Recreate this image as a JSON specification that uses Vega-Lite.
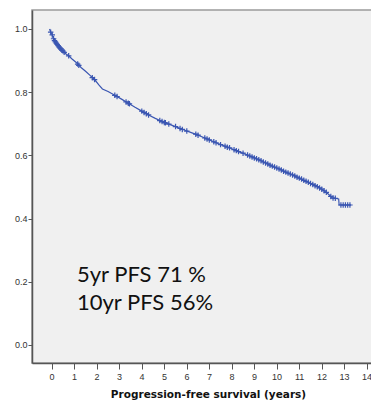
{
  "$schema": "https://vega.github.io/schema/vega-lite/v6.json",
  "width": 360,
  "height": 353,
  "autosize": "none",
  "padding": {"left": 32, "top": 10, "right": 0, "bottom": 38},
  "background": "white",
  "config": {
    "view": {"fill": "#f0f0f0", "stroke": "#9a9a9a", "strokeWidth": 1.5},
    "axis": {
      "grid": false,
      "domainColor": "#555555",
      "domainWidth": 1.5,
      "tickColor": "#555555",
      "labelFont": "Liberation Sans",
      "labelFontSize": 9,
      "labelColor": "#333333",
      "labelOverlap": false
    }
  },
  "datasets": {
    "curve": [
      {"t": 0, "s": 1.0}, {"t": 0.05, "s": 0.99}, {"t": 0.1, "s": 0.985}, {"t": 0.15, "s": 0.975},
      {"t": 0.2, "s": 0.965}, {"t": 0.3, "s": 0.955}, {"t": 0.4, "s": 0.945}, {"t": 0.5, "s": 0.937},
      {"t": 0.6, "s": 0.93}, {"t": 0.7, "s": 0.922}, {"t": 0.85, "s": 0.915}, {"t": 1.0, "s": 0.905},
      {"t": 1.2, "s": 0.893}, {"t": 1.4, "s": 0.878}, {"t": 1.6, "s": 0.866}, {"t": 1.8, "s": 0.853},
      {"t": 2.0, "s": 0.84}, {"t": 2.2, "s": 0.822}, {"t": 2.35, "s": 0.81}, {"t": 2.6, "s": 0.802},
      {"t": 2.9, "s": 0.79}, {"t": 3.2, "s": 0.778}, {"t": 3.5, "s": 0.765}, {"t": 3.8, "s": 0.752},
      {"t": 4.1, "s": 0.74}, {"t": 4.4, "s": 0.728}, {"t": 4.7, "s": 0.717}, {"t": 5.0, "s": 0.707},
      {"t": 5.3, "s": 0.699}, {"t": 5.6, "s": 0.691}, {"t": 5.95, "s": 0.681}, {"t": 6.3, "s": 0.672},
      {"t": 6.6, "s": 0.664}, {"t": 6.9, "s": 0.655}, {"t": 7.2, "s": 0.646}, {"t": 7.5, "s": 0.637},
      {"t": 7.8, "s": 0.629}, {"t": 8.1, "s": 0.621}, {"t": 8.4, "s": 0.612}, {"t": 8.7, "s": 0.604},
      {"t": 9.0, "s": 0.595}, {"t": 9.3, "s": 0.586}, {"t": 9.6, "s": 0.576}, {"t": 9.9, "s": 0.566},
      {"t": 10.2, "s": 0.557}, {"t": 10.5, "s": 0.547}, {"t": 10.8, "s": 0.538}, {"t": 11.1, "s": 0.528},
      {"t": 11.4, "s": 0.518}, {"t": 11.7, "s": 0.508}, {"t": 12.0, "s": 0.497}, {"t": 12.2, "s": 0.488},
      {"t": 12.4, "s": 0.477}, {"t": 12.55, "s": 0.466}, {"t": 12.85, "s": 0.462}, {"t": 12.87, "s": 0.443},
      {"t": 13.4, "s": 0.443}
    ],
    "censored": [
      {"t": 0.05, "s": 0.99}, {"t": 0.12, "s": 0.981}, {"t": 0.18, "s": 0.969}, {"t": 0.22, "s": 0.963},
      {"t": 0.26, "s": 0.959}, {"t": 0.3, "s": 0.955}, {"t": 0.34, "s": 0.951}, {"t": 0.38, "s": 0.947},
      {"t": 0.42, "s": 0.943}, {"t": 0.46, "s": 0.94}, {"t": 0.5, "s": 0.937}, {"t": 0.55, "s": 0.933},
      {"t": 0.6, "s": 0.93}, {"t": 0.65, "s": 0.926}, {"t": 0.85, "s": 0.915}, {"t": 1.25, "s": 0.889},
      {"t": 1.3, "s": 0.885}, {"t": 1.9, "s": 0.846}, {"t": 2.0, "s": 0.84}, {"t": 2.9, "s": 0.79},
      {"t": 3.0, "s": 0.786}, {"t": 3.4, "s": 0.769}, {"t": 3.5, "s": 0.765}, {"t": 3.55, "s": 0.763},
      {"t": 4.1, "s": 0.74}, {"t": 4.2, "s": 0.736}, {"t": 4.3, "s": 0.732}, {"t": 4.4, "s": 0.728},
      {"t": 4.9, "s": 0.71}, {"t": 5.0, "s": 0.707}, {"t": 5.1, "s": 0.704}, {"t": 5.15, "s": 0.703},
      {"t": 5.3, "s": 0.699}, {"t": 5.6, "s": 0.691}, {"t": 5.8, "s": 0.685}, {"t": 5.9, "s": 0.682},
      {"t": 6.1, "s": 0.677}, {"t": 6.5, "s": 0.667}, {"t": 6.6, "s": 0.664}, {"t": 6.9, "s": 0.655},
      {"t": 7.0, "s": 0.652}, {"t": 7.1, "s": 0.649}, {"t": 7.3, "s": 0.643}, {"t": 7.4, "s": 0.64},
      {"t": 7.6, "s": 0.634}, {"t": 7.8, "s": 0.629}, {"t": 7.9, "s": 0.626}, {"t": 8.0, "s": 0.624},
      {"t": 8.2, "s": 0.618}, {"t": 8.3, "s": 0.615}, {"t": 8.4, "s": 0.612}, {"t": 8.6, "s": 0.607},
      {"t": 8.8, "s": 0.601}, {"t": 8.9, "s": 0.598}, {"t": 9.0, "s": 0.595}, {"t": 9.1, "s": 0.592},
      {"t": 9.2, "s": 0.589}, {"t": 9.3, "s": 0.586}, {"t": 9.4, "s": 0.583}, {"t": 9.5, "s": 0.579},
      {"t": 9.6, "s": 0.576}, {"t": 9.7, "s": 0.573}, {"t": 9.8, "s": 0.569}, {"t": 9.9, "s": 0.566},
      {"t": 10.0, "s": 0.563}, {"t": 10.1, "s": 0.56}, {"t": 10.2, "s": 0.557}, {"t": 10.3, "s": 0.554},
      {"t": 10.4, "s": 0.55}, {"t": 10.5, "s": 0.547}, {"t": 10.6, "s": 0.544}, {"t": 10.7, "s": 0.541},
      {"t": 10.8, "s": 0.538}, {"t": 10.9, "s": 0.535}, {"t": 11.0, "s": 0.531}, {"t": 11.1, "s": 0.528},
      {"t": 11.2, "s": 0.525}, {"t": 11.3, "s": 0.521}, {"t": 11.4, "s": 0.518}, {"t": 11.5, "s": 0.515},
      {"t": 11.6, "s": 0.511}, {"t": 11.7, "s": 0.508}, {"t": 11.8, "s": 0.504}, {"t": 11.9, "s": 0.501},
      {"t": 12.0, "s": 0.497}, {"t": 12.1, "s": 0.493}, {"t": 12.2, "s": 0.488}, {"t": 12.3, "s": 0.483},
      {"t": 12.5, "s": 0.47}, {"t": 12.6, "s": 0.465}, {"t": 12.7, "s": 0.464}, {"t": 12.95, "s": 0.443},
      {"t": 13.05, "s": 0.443}, {"t": 13.15, "s": 0.443}, {"t": 13.25, "s": 0.443}, {"t": 13.35, "s": 0.443}
    ],
    "notes": [
      {"label": "5yr PFS 71 %"},
      {"label": "10yr PFS 56%"}
    ]
  },
  "layer": [
    {
      "data": {"name": "curve"},
      "mark": {"type": "line", "color": "#3a56b2", "strokeWidth": 1.2},
      "encoding": {
        "x": {
          "field": "t", "type": "quantitative",
          "scale": {"domain": [-0.78, 15.22], "nice": false, "zero": false},
          "axis": {"values": [0, 1, 2, 3, 4, 5, 6, 7, 8, 9, 10, 11, 12, 13, 14], "labelOverlap": false, "title": "Progression-free survival (years)", "titleFont": "DejaVu Sans", "titleFontSize": 10.5, "titleFontWeight": "bold", "titleColor": "#111111", "titlePadding": 8, "titleX": 176, "tickSize": 6, "tickOffset": 2, "labelPadding": 3}
        },
        "y": {
          "field": "s", "type": "quantitative",
          "scale": {"domain": [-0.057, 1.06], "nice": false, "zero": false},
          "axis": {"values": [0, 0.2, 0.4, 0.6, 0.8, 1.0], "format": ".1f", "title": null, "tickSize": 4, "labelPadding": 1}
        }
      }
    },
    {
      "data": {"name": "censored"},
      "mark": {"type": "point", "shape": "M-1,0L1,0M0,-1L0,1", "size": 30, "filled": false, "stroke": "#3a56b2", "strokeWidth": 1.2, "opacity": 1},
      "encoding": {
        "x": {
          "field": "t", "type": "quantitative",
          "axis": {"values": [0, 1, 2, 3, 4, 5, 6, 7, 8, 9, 10, 11, 12, 13, 14], "labelOverlap": false, "title": "Progression-free survival (years)", "titleFont": "DejaVu Sans", "titleFontSize": 10.5, "titleFontWeight": "bold", "titleColor": "#111111", "titlePadding": 8, "titleX": 176, "tickSize": 6, "tickOffset": 2, "labelPadding": 3}
        },
        "y": {
          "field": "s", "type": "quantitative",
          "axis": {"values": [0, 0.2, 0.4, 0.6, 0.8, 1.0], "format": ".1f", "title": null, "tickSize": 4, "labelPadding": 1}
        }
      }
    },
    {
      "data": {"name": "notes"},
      "transform": [{"filter": "datum.label == '5yr PFS 71 %'"}],
      "mark": {"type": "text", "font": "Lato", "fontSize": 22, "align": "left", "fill": "#111111"},
      "encoding": {
        "x": {
          "datum": 1.22, "type": "quantitative",
          "axis": {"values": [0, 1, 2, 3, 4, 5, 6, 7, 8, 9, 10, 11, 12, 13, 14], "labelOverlap": false, "title": "Progression-free survival (years)", "titleFont": "DejaVu Sans", "titleFontSize": 10.5, "titleFontWeight": "bold", "titleColor": "#111111", "titlePadding": 8, "titleX": 176, "tickSize": 6, "tickOffset": 2, "labelPadding": 3}
        },
        "y": {
          "datum": 0.222, "type": "quantitative",
          "axis": {"values": [0, 0.2, 0.4, 0.6, 0.8, 1.0], "format": ".1f", "title": null, "tickSize": 4, "labelPadding": 1}
        },
        "text": {"field": "label"}
      }
    },
    {
      "data": {"name": "notes"},
      "transform": [{"filter": "datum.label == '10yr PFS 56%'"}],
      "mark": {"type": "text", "font": "Lato", "fontSize": 22, "align": "left", "fill": "#111111"},
      "encoding": {
        "x": {
          "datum": 1.22, "type": "quantitative",
          "axis": {"values": [0, 1, 2, 3, 4, 5, 6, 7, 8, 9, 10, 11, 12, 13, 14], "labelOverlap": false, "title": "Progression-free survival (years)", "titleFont": "DejaVu Sans", "titleFontSize": 10.5, "titleFontWeight": "bold", "titleColor": "#111111", "titlePadding": 8, "titleX": 176, "tickSize": 6, "tickOffset": 2, "labelPadding": 3}
        },
        "y": {
          "datum": 0.133, "type": "quantitative",
          "axis": {"values": [0, 0.2, 0.4, 0.6, 0.8, 1.0], "format": ".1f", "title": null, "tickSize": 4, "labelPadding": 1}
        },
        "text": {"field": "label"}
      }
    }
  ]
}
